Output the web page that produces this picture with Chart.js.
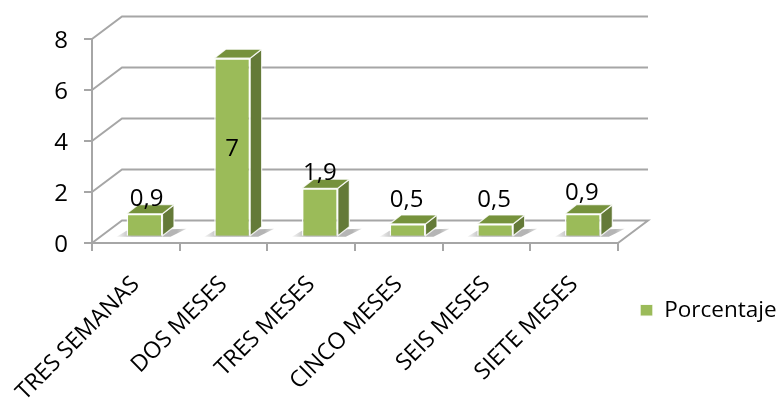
<!DOCTYPE html>
<html>
<head>
<meta charset="utf-8">
<style>
  html, body { margin: 0; padding: 0; background: #fff; }
  canvas { display: block; }
</style>
<script src="https://cdn.jsdelivr.net/npm/chart.js@4"></script>
</head>
<body>
<canvas id="grafico" width="778" height="398"></canvas>
<script>
const categorias = ['TRES SEMANAS', 'DOS MESES', 'TRES MESES', 'CINCO MESES', 'SEIS MESES', 'SIETE MESES'];
const porcentaje = [0.9, 7, 1.9, 0.5, 0.5, 0.9];
const ticksY = [0, 2, 4, 6, 8];

// distance from the top of each bar to its value label
const subidaEtiqueta = [15, -91, 15, 24, 24, 21];
const corrimientoEtiqueta = [2, 0, 0, -1, -1, -1];

const GRIS = '#a6a6a6';
const VERDE = '#9bbb59';
const VERDE_LADO = '#647a38';
const VERDE_TAPA = '#76923c';

// depth of the back wall and of each block
const FONDO = { x: 30, y: -22.5 };
const BLOQUE = { x: 11.5, y: -9 };
// bars stand a little inside the floor
const SUELO = { x: 8.7, y: -6.3 };

function cara(ctx, puntos, relleno) {
    ctx.beginPath();
    puntos.forEach((p, i) => i ? ctx.lineTo(p[0], p[1]) : ctx.moveTo(p[0], p[1]));
    ctx.closePath();
    ctx.fillStyle = relleno;
    ctx.fill();
    ctx.strokeStyle = 'rgba(255, 255, 255, 0.85)';
    ctx.lineWidth = 1.2;
    ctx.stroke();
}

const escena3d = {
    id: 'escena3d',
    afterLayout(chart) {
        // put the legend box at the lower right, outside the plot
        const leyenda = chart.legend;
        leyenda.left = 630;
        leyenda.right = 778;
        leyenda.top = 289;
        leyenda.bottom = 398;
        leyenda.width = 148;
        leyenda.height = 109;
    },
    beforeDatasetsDraw(chart) {
        const { ctx, scales: { x, y } } = chart;
        ctx.save();
        ctx.strokeStyle = GRIS;
        ctx.lineWidth = 2;
        ticksY.forEach(v => {
            const py = y.getPixelForValue(v);
            ctx.beginPath();
            ctx.moveTo(x.left, py);
            ctx.lineTo(x.left + FONDO.x, py + FONDO.y);
            ctx.lineTo(x.right + FONDO.x, py + FONDO.y);
            if (v === 0) ctx.lineTo(x.right, py);
            ctx.stroke();
        });
        ctx.restore();
    },
    beforeDatasetDraw(chart, args) {
        const { ctx } = chart;
        ctx.save();
        ctx.translate(SUELO.x, SUELO.y);
        args.meta.data.forEach(barra => {
            const izq = barra.x - barra.width / 2;
            const der = barra.x + barra.width / 2;
            const arriba = barra.y;
            const abajo = barra.base;

            // soft shadow on the floor
            const sombra = ctx.createLinearGradient(izq - 12, 0, der + 30, 0);
            sombra.addColorStop(0, 'rgba(120, 120, 120, 0)');
            sombra.addColorStop(0.22, 'rgba(120, 120, 120, 0.55)');
            sombra.addColorStop(0.8, 'rgba(120, 120, 120, 0.55)');
            sombra.addColorStop(1, 'rgba(120, 120, 120, 0)');
            ctx.beginPath();
            ctx.moveTo(izq - 10, abajo + 1);
            ctx.lineTo(izq, abajo - 5);
            ctx.lineTo(der + 24, abajo - 7);
            ctx.lineTo(der + 8, abajo + 1);
            ctx.closePath();
            ctx.fillStyle = sombra;
            ctx.fill();

            cara(ctx, [[der, arriba], [der + BLOQUE.x, arriba + BLOQUE.y], [der + BLOQUE.x, abajo + BLOQUE.y], [der, abajo]], VERDE_LADO);
            cara(ctx, [[izq, arriba], [izq + BLOQUE.x, arriba + BLOQUE.y], [der + BLOQUE.x, arriba + BLOQUE.y], [der, arriba]], VERDE_TAPA);
        });
    },
    afterDatasetDraw(chart) {
        chart.ctx.restore();
    },
    afterDatasetsDraw(chart) {
        const { ctx } = chart;
        const barras = chart.getDatasetMeta(0).data;
        ctx.save();
        ctx.font = '24px "Open Sans"';
        ctx.fillStyle = '#000';
        ctx.textAlign = 'center';
        ctx.textBaseline = 'middle';
        barras.forEach((barra, i) => {
            const texto = String(porcentaje[i]).replace('.', ',');
            ctx.fillText(texto, barra.x + SUELO.x + corrimientoEtiqueta[i], barra.y + SUELO.y - subidaEtiqueta[i]);
        });
        ctx.restore();
    }
};

new Chart(document.getElementById('grafico'), {
    type: 'bar',
    data: {
        labels: categorias,
        datasets: [{
            label: 'Porcentaje',
            data: porcentaje,
            backgroundColor: VERDE,
            borderColor: 'rgba(255, 255, 255, 0.9)',
            borderWidth: 1.5,
            barPercentage: 1,
            categoryPercentage: 0.41,
            clip: false
        }]
    },
    options: {
        responsive: false,
        animation: false,
        layout: { padding: { left: 0, right: 160, top: 39, bottom: 0 } },
        scales: {
            x: {
                // the long first label may hang past the axis without moving the plot
                afterFit(scale) { scale.height = 155; scale.paddingLeft = 0; },
                border: { color: GRIS, width: 2 },
                grid: { drawOnChartArea: false, color: GRIS, lineWidth: 2, tickLength: 8 },
                ticks: {
                    autoSkip: false,
                    minRotation: 45,
                    maxRotation: 45,
                    padding: 20,
                    labelOffset: 0,
                    color: '#000',
                    font: { family: 'Open Sans', size: 23 }
                }
            },
            y: {
                min: 0,
                max: 8,
                afterFit(scale) { scale.width = 92; },
                afterBuildTicks(scale) { scale.ticks = ticksY.map(value => ({ value })); },
                border: { color: GRIS, width: 2 },
                grid: { drawOnChartArea: false, color: GRIS, lineWidth: 2, tickLength: 8 },
                ticks: {
                    padding: 16,
                    labelOffset: 2,
                    color: '#000',
                    font: { family: 'Open Sans', size: 24 }
                }
            }
        },
        plugins: {
            tooltip: { enabled: false },
            legend: {
                position: 'chartArea',
                align: 'start',
                labels: {
                    boxWidth: 13,
                    boxHeight: 12,
                    color: '#000',
                    font: { family: 'Open Sans', size: 22.5 }
                }
            }
        }
    },
    plugins: [escena3d]
});
</script>
</body>
</html>
